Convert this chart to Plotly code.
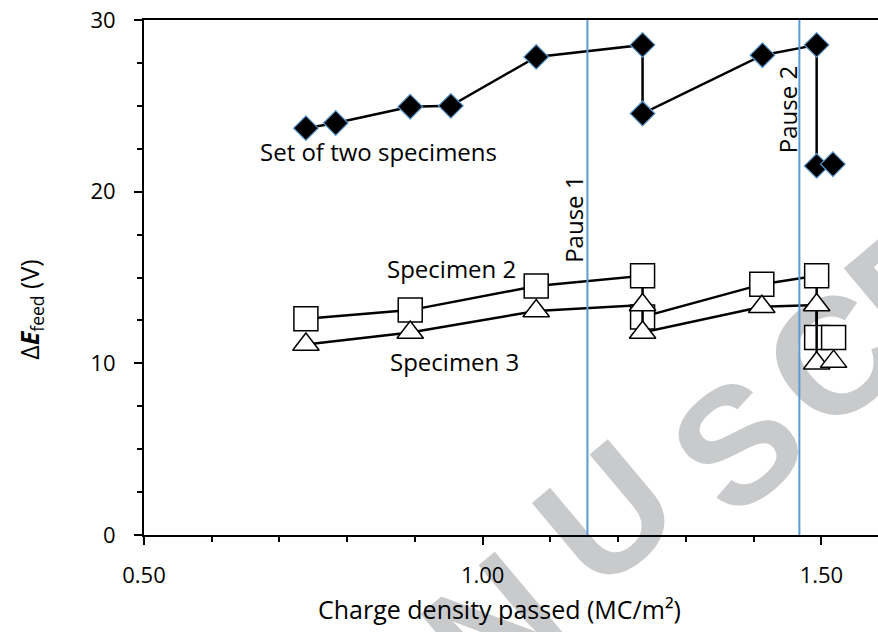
import plotly.graph_objects as go

# ---- data ----
set_x = [0.739, 0.783, 0.893, 0.953, 1.079, 1.236, 1.236, 1.413, 1.493, 1.493, 1.517]
set_y = [23.7, 24.0, 24.95, 25.0, 27.85, 28.55, 24.55, 27.95, 28.55, 21.5, 21.6]

spec2_x = [0.739, 0.893, 1.079, 1.236, 1.236, 1.412, 1.493, 1.493, 1.518]
spec2_y = [12.6, 13.1, 14.5, 15.1, 12.7, 14.6, 15.1, 11.5, 11.5]

spec3_x = [0.739, 0.893, 1.079, 1.236, 1.236, 1.412, 1.493, 1.493, 1.518]
spec3_y = [11.1, 11.8, 13.05, 13.4, 11.8, 13.3, 13.4, 10.0, 10.1]

pause_x = [1.1546, 1.4675]
pause_labels = ["Pause 1", "Pause 2"]
pause_label_y = [18.4, 24.8]

x_ticks = [0.5, 1.0, 1.5]
y_ticks = [0, 10, 20, 30]

FONT = "Open Sans"
BLUE = "#5B9BD5"

fig = go.Figure()

fig.add_trace(go.Scatter(
    x=spec2_x, y=spec2_y, mode="lines+markers", name="Specimen 2",
    line=dict(color="black", width=2.5),
    marker=dict(symbol="square", size=24, color="white",
                line=dict(color="black", width=1.5)),
))
fig.add_trace(go.Scatter(
    x=spec3_x, y=spec3_y, mode="lines+markers", name="Specimen 3",
    line=dict(color="black", width=2.5),
    marker=dict(symbol="triangle-up", size=23, color="white",
                line=dict(color="black", width=1.5)),
))
fig.add_trace(go.Scatter(
    x=set_x, y=set_y, mode="lines+markers", name="Set of two specimens",
    line=dict(color="black", width=2.5),
    marker=dict(symbol="diamond", size=19, color="black",
                line=dict(color=BLUE, width=1.2)),
))

# pause lines
for px in pause_x:
    fig.add_shape(type="line", xref="x", yref="y", x0=px, x1=px, y0=0, y1=30,
                  line=dict(color=BLUE, width=2), layer="above")

# watermark letters (behind everything)
L0, T0, W0, H0 = 144.3, 19.7, 733.7, 515.4
def paper(px, py):
    return (px - L0) / W0, (T0 + H0 - py) / H0

wm_letters = ["N", "U", "S", "C", "R"]
wm_px = [484, 596, 727, 823, 907]
wm_py = [614, 502, 432, 345, 268]
for ch, px, py in zip(wm_letters, wm_px, wm_py):
    cx, cy = paper(px, py)
    fig.add_shape(type="rect", xref="paper", yref="paper",
                  x0=cx - 0.01, x1=cx + 0.01, y0=cy - 0.01, y1=cy + 0.01,
                  line=dict(width=0), fillcolor="rgba(0,0,0,0)", layer="below",
                  label=dict(text=ch, textangle=-40, textposition="middle center",
                             font=dict(family="Liberation Sans", size=165,
                                       color="#c9cacc", weight="bold")))

ann_font = dict(family=FONT, size=24, color="black")
fig.add_annotation(x=0.8465, y=22.32, text="Set of two specimens", showarrow=False,
                   font=ann_font, xanchor="center", yanchor="middle")
fig.add_annotation(x=0.9535, y=15.55, text="Specimen 2", showarrow=False,
                   font=ann_font, xanchor="center", yanchor="middle")
fig.add_annotation(x=0.9577, y=10.09, text="Specimen 3", showarrow=False,
                   font=ann_font, xanchor="center", yanchor="middle")
pause_label_x = [1.1329, 1.4492]
for lx, ly, t in zip(pause_label_x, pause_label_y, pause_labels):
    fig.add_annotation(x=lx, y=ly, text=t, showarrow=False, textangle=-90,
                       font=ann_font, xanchor="center", yanchor="middle")

# axis titles
cx, cy = paper(499.5, 609)
fig.add_annotation(xref="paper", yref="paper", x=cx, y=cy,
                   text="Charge density passed (MC/m²)", showarrow=False,
                   font=dict(family=FONT, size=25, color="black"),
                   xanchor="center", yanchor="middle")
cx, cy = paper(30, 310)
fig.add_annotation(xref="paper", yref="paper", x=cx, y=cy,
                   text="Δ<b><i>E</i></b><sub>feed</sub> (V)", showarrow=False,
                   textangle=-90,
                   font=dict(family=FONT, size=25, color="black"),
                   xanchor="center", yanchor="middle")

fig.update_xaxes(range=[0.5, 0.5 + 734 / 677.4], tickvals=x_ticks, tickformat=".2f",
                 ticks="outside", ticklen=8, tickwidth=1.5, tickcolor="black",
                 minor=dict(dtick=0.1, ticks="outside", ticklen=5, tickwidth=1.5,
                            tickcolor="black", tick0=0.5),
                 showline=True, linecolor="black", linewidth=2, mirror=True,
                 showgrid=False, zeroline=False,
                 tickfont=dict(family=FONT, size=22, color="black"),
                 ticklabelstandoff=12)
fig.update_yaxes(range=[0, 30], tickvals=y_ticks,
                 ticks="outside", ticklen=8, tickwidth=1.5, tickcolor="black",
                 minor=dict(dtick=2.5, ticks="outside", ticklen=5, tickwidth=1.5,
                            tickcolor="black", tick0=0),
                 showline=True, linecolor="black", linewidth=2,
                 showgrid=False, zeroline=False,
                 tickfont=dict(family=FONT, size=22, color="black"),
                 ticklabelstandoff=14)

fig.update_layout(width=878, height=632, margin=dict(l=144, r=0, t=20, b=97),
                  paper_bgcolor="white", plot_bgcolor="rgba(0,0,0,0)",
                  showlegend=False)

fig.write_html("out.html")
